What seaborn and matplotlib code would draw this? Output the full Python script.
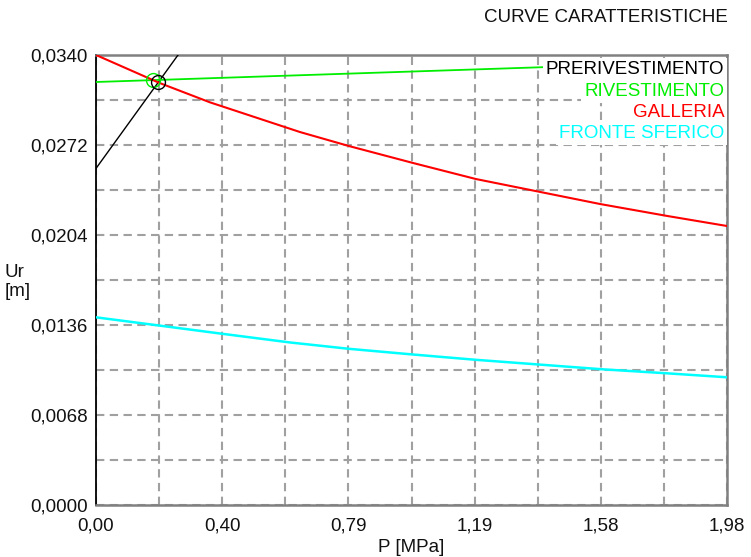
import numpy as np
import pandas as pd
import matplotlib
matplotlib.use("Agg")
import matplotlib.pyplot as plt
import seaborn as sns

# --- characteristic curves (P in MPa, Ur in m) ---
galleria_p = [0.0, 0.198, 0.358, 0.640, 0.794, 0.995, 1.192, 1.582, 1.792, 1.98]
galleria_ur = [0.0340, 0.03190, 0.03042, 0.02818, 0.02712, 0.02584, 0.02463, 0.02274, 0.02184, 0.02108]

fronte_p = [0.0, 0.198, 0.395, 0.609, 0.794, 0.995, 1.192, 1.425, 1.591, 1.792, 1.98]
fronte_ur = [0.01418, 0.01356, 0.01294, 0.01228, 0.01180, 0.01137, 0.01097, 0.01055, 0.01025, 0.00995, 0.00965]

rivestimento_p = [0.0, 1.98]
rivestimento_ur = [0.03196, 0.03354]

prerivestimento_p = [0.0, 0.30]
prerivestimento_ur = [0.02543, 0.03542]

# axis ticks
x_ticks = [0.0, 0.198, 0.396, 0.594, 0.792, 0.990, 1.188, 1.386, 1.584, 1.782, 1.98]
x_labels = ["0,00", "", "0,40", "", "0,79", "", "1,19", "", "1,58", "", "1,98"]
y_ticks = [0.0, 0.0034, 0.0068, 0.0102, 0.0136, 0.0170, 0.0204, 0.0238, 0.0272, 0.0306, 0.0340]
y_labels = ["0,0000", "", "0,0068", "", "0,0136", "", "0,0204", "", "0,0272", "", "0,0340"]

legend_names = ["PRERIVESTIMENTO", "RIVESTIMENTO", "GALLERIA", "FRONTE SFERICO"]
legend_colors = ["black", "#00ee00", "#ff0000", "#00ffff"]

FS = 13.5

sns.set_theme(style="white")
plt.rcParams["font.family"] = ["Liberation Sans", "DejaVu Sans"]

fig = plt.figure(figsize=(7.51, 5.57), dpi=100)
ax = fig.add_axes([96 / 751, 52 / 557, 631 / 751, 450 / 557])

df_gal = pd.DataFrame({"P": galleria_p, "Ur": galleria_ur})
df_fr = pd.DataFrame({"P": fronte_p, "Ur": fronte_ur})
df_riv = pd.DataFrame({"P": rivestimento_p, "Ur": rivestimento_ur})
df_pre = pd.DataFrame({"P": prerivestimento_p, "Ur": prerivestimento_ur})

sns.lineplot(data=df_pre, x="P", y="Ur", ax=ax, color=legend_colors[0], lw=1.0, estimator=None, zorder=3)
sns.lineplot(data=df_riv, x="P", y="Ur", ax=ax, color=legend_colors[1], lw=1.3, estimator=None, zorder=3)
sns.lineplot(data=df_gal, x="P", y="Ur", ax=ax, color=legend_colors[2], lw=1.5, estimator=None, zorder=4)
sns.lineplot(data=df_fr, x="P", y="Ur", ax=ax, color=legend_colors[3], lw=1.8, estimator=None, zorder=4)


def crossing(p1, u1, p2, u2):
    grid = np.linspace(0, min(max(p1), max(p2)), 4000)
    d = np.interp(grid, p1, u1) - np.interp(grid, p2, u2)
    i = np.where(np.sign(d[:-1]) != np.sign(d[1:]))[0][0]
    return grid[i], np.interp(grid[i], p1, u1)


# equilibrium points of the linings on the ground curve
pr, ur = crossing(galleria_p, galleria_ur, rivestimento_p, rivestimento_ur)
ax.plot(pr, ur, marker="o", ms=10, mfc="none", mec=legend_colors[1], mew=1.0, zorder=5)
pp, up = crossing(galleria_p, galleria_ur, prerivestimento_p, prerivestimento_ur)
ax.plot(pp, up, marker="o", ms=10, mfc="none", mec="black", mew=1.0, zorder=5)

ax.set_xlim(0, 1.98)
ax.set_ylim(0, 0.0340)
ax.set_xticks(x_ticks)
ax.set_xticklabels(x_labels)
ax.set_yticks(y_ticks)
ax.set_yticklabels(y_labels)
ax.tick_params(axis="both", length=0, labelsize=FS, colors="#111111")
ax.tick_params(axis="x", pad=9)
ax.tick_params(axis="y", pad=6)
ax.set_xlabel("")
ax.set_ylabel("")

ax.grid(True, color="#a0a0a0", lw=1.5, linestyle=(0, (4, 2.6)), zorder=1)
ax.set_axisbelow(True)

for side in ["top", "right", "bottom"]:
    ax.spines[side].set_color("#808080")
    ax.spines[side].set_linewidth(1.8)
ax.spines["left"].set_color("black")
ax.spines["left"].set_linewidth(1.3)

# curve names, stacked in the upper right corner
for k, (name, col) in enumerate(zip(legend_names, legend_colors)):
    ax.text(0.996, 0.967 - k * 0.0475, name, transform=ax.transAxes, ha="right", va="center",
            fontsize=FS, color=col, zorder=6,
            bbox=dict(facecolor="white", edgecolor="none", pad=2.2))

fig.text(728 / 751, 1 - 18 / 557, "CURVE CARATTERISTICHE", ha="right", va="center",
         fontsize=FS, color="#111111")
fig.text(411 / 751, 1 - 548 / 557, "P [MPa]", ha="center", va="center", fontsize=FS, color="#111111")
fig.text(5 / 751, 1 - 282 / 557, "Ur\n[m]", ha="left", va="center", fontsize=FS,
         color="#111111", linespacing=1.1)

fig.savefig("out.png", dpi=100)
